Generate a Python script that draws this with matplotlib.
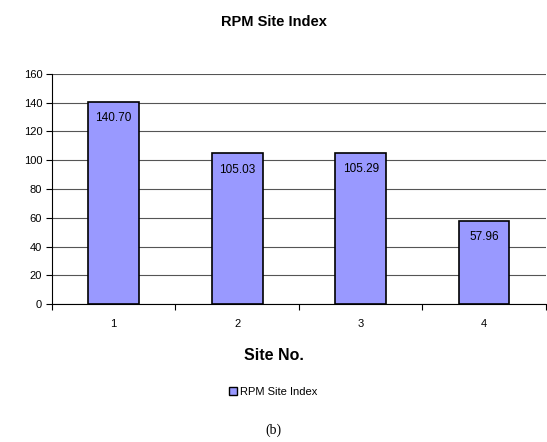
import matplotlib
matplotlib.use("Agg")
import matplotlib.pyplot as plt
from matplotlib.patches import Patch

sites = ["1", "2", "3", "4"]
values = [140.70, 105.03, 105.29, 57.96]
value_labels = ["140.70", "105.03", "105.29", "57.96"]
yticks = [0, 20, 40, 60, 80, 100, 120, 140, 160]

plt.rcParams['font.family'] = ['Liberation Sans', 'DejaVu Sans']

fig = plt.figure(figsize=(5.47, 4.42), dpi=100)
ax = fig.add_axes([0.095, 0.312, 0.903, 0.521])

x = list(range(1, len(sites) + 1))
bars = ax.bar(x, values, width=0.41, color='#9999ff', edgecolor='black', linewidth=1.2, zorder=3)

for xi, v, lab in zip(x, values, value_labels):
    ax.annotate(lab, (xi, v), xytext=(0, -12), textcoords='offset points',
                ha='center', va='center', fontsize=8.5, zorder=4)

ax.set_ylim(0, 160)
ax.set_xlim(0.5, len(sites) + 0.5)
ax.set_yticks(yticks)
ax.set_yticklabels([str(t) for t in yticks], fontsize=8)
ax.yaxis.grid(True, color='#555555', linewidth=0.8, zorder=0)
ax.set_axisbelow(True)

ax.set_xticks([i + 0.5 for i in range(len(sites) + 1)])
ax.set_xticklabels([])
ax.set_xticks(x, minor=True)
ax.set_xticklabels(sites, minor=True, fontsize=8)
ax.tick_params(axis='x', which='minor', length=0, pad=11)
ax.tick_params(axis='x', which='major', length=4, width=0.8)
ax.tick_params(axis='y', length=4, width=0.8, pad=3)

for s in ['top', 'right']:
    ax.spines[s].set_visible(False)
ax.spines['left'].set_linewidth(0.8)
ax.spines['bottom'].set_linewidth(0.8)

fig.text(0.5, 1 - 22/442, "RPM Site Index", ha='center', va='center', fontsize=10.5, fontweight='bold')
fig.text(0.5, 1 - 356/442, "Site No.", ha='center', va='center', fontsize=11.5, fontweight='bold')

handle = Patch(facecolor='#9999ff', edgecolor='black', linewidth=1.0)
fig.legend([handle], ["RPM Site Index"], loc='center', bbox_to_anchor=(0.5, 1 - 392/442),
           frameon=False, fontsize=8, handlelength=0.7, handleheight=0.7, handletextpad=0.3)

fig.text(0.5, 1 - 430/442, "(b)", ha='center', va='center', fontsize=10, family='Liberation Serif')

fig.savefig("out.png", dpi=100)
